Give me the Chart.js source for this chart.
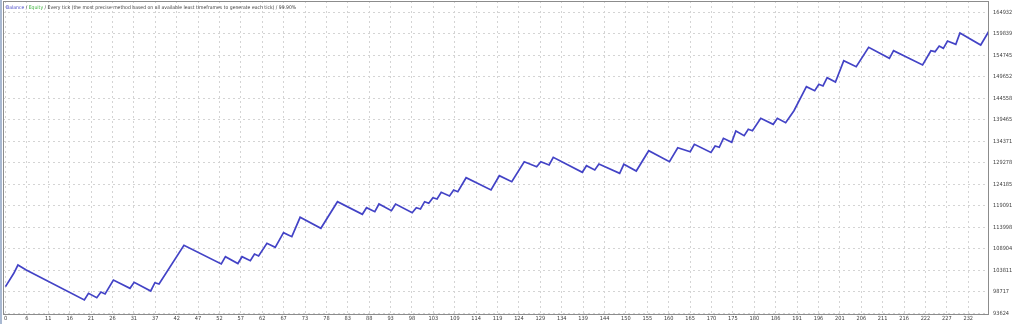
<!DOCTYPE html>
<html>
<head>
<meta charset="utf-8">
<script src="https://cdn.jsdelivr.net/npm/chart.js@4.4.1/dist/chart.umd.min.js"></script>
<style>
  html, body { margin: 0; padding: 0; background: #ffffff; }
  #wrap { width: 1024px; height: 324px; position: relative; }
  canvas { display: block; }
</style>
</head>
<body>
<div id="wrap"><canvas id="c" width="1024" height="324"></canvas></div>
<script>
// Trade numbers at the turning points of the balance curve
const trades = [0,2,3,5,19,20,22,23,24,26,30,31,35,36,37,43,52,53,56,57,59,60,61,63,65,67,69,71,76,80,
  86,87,89,90,93,94,98,99,100,101,102,103,104,105,107,108,109,111,117,119,122,125,128,129,131,132,
  139,140,142,143,148,149,152,155,160,162,165,166,170,171,172,173,175,176,178,179,180,182,185,186,
  188,190,193,195,196,197,198,200,202,205,208,213,214,221,223,224,225,226,227,229,230,235,237];
// Balance at those trades
const balance = [100000,103147,105114,103929,96822,98409,97367,98717,98244,101560,99594,101015,98954,
  100921,100613,109781,105351,107080,105469,107080,106132,107720,107246,110254,109307,112765,111818,
  116414,113808,120109,117124,118688,117740,119565,117977,119565,117504,118688,118380,120109,119730,
  121057,120749,122336,121460,122881,122478,125795,122881,126269,124847,129585,128401,129585,128804,
  130628,127074,128638,127619,129040,126837,128969,127382,132191,129585,132902,131954,133707,131765,
  133305,132997,135129,134181,136858,135745,137261,136929,139867,138445,139867,138825,141667,147353,
  146405,147921,147519,149485,148466,153512,152091,156687,154081,155881,152494,155881,155644,156995,
  156450,158179,157397,160074,157232,160548];
// Axis tick labels
const xTickLabels = [0,6,11,16,21,26,31,37,42,47,52,57,62,67,73,78,83,88,93,98,103,109,114,119,124,
  129,134,139,144,150,155,160,165,170,175,180,186,191,196,201,206,211,216,222,227,232];
const yTickLabels = [93624,98717,103811,108904,113998,119091,124185,129278,134371,139465,144558,
  149652,154745,159839,164932];
const headerParts = [
  {text: 'Balance', color: '#4a4ac8'},
  {text: ' / ', color: '#404040'},
  {text: 'Equity', color: '#3cb43c'},
  {text: ' / Every tick (the most precise method based on all available least timeframes to generate each tick) / 99.90%', color: '#404040'}
];

const FAMILY = '"Liberation Sans Narrow", "DejaVu Sans Condensed", "Liberation Sans", Arial, sans-serif';
const mctx = document.createElement('canvas').getContext('2d');
mctx.font = '10px ' + FAMILY;
const headerWidth = mctx.measureText(headerParts.map(p => p.text).join('')).width;
const headerSize = 10 * 291 / headerWidth;
const axisSize = 10 * 19.3 / mctx.measureText('164932').width;

const xStep = (xTickLabels[xTickLabels.length - 1] - xTickLabels[0]) / (xTickLabels.length - 1);
const yStep = (yTickLabels[yTickLabels.length - 1] - yTickLabels[0]) / (yTickLabels.length - 1);
const points = trades.map((t, i) => ({x: t, y: balance[i]}));

const framePlugin = {
  id: 'frame',
  beforeDraw(chart) {
    const ctx = chart.ctx;
    ctx.save();
    ctx.fillStyle = '#ffffff';
    ctx.fillRect(0, 0, chart.width, chart.height);
    ctx.fillStyle = '#a9b9d2';
    ctx.fillRect(0, 0, 2, chart.height);
    ctx.restore();
  },
  afterDraw(chart) {
    const {ctx, chartArea: a} = chart;
    ctx.save();
    ctx.strokeStyle = '#8c8c8c';
    ctx.lineWidth = 1;
    ctx.strokeRect(Math.round(a.left) + 0.5, Math.round(a.top) + 0.5,
      Math.round(a.right - a.left) - 1, Math.round(a.bottom - a.top));
    ctx.font = headerSize + 'px ' + FAMILY;
    ctx.textBaseline = 'middle';
    let x = 6;
    headerParts.forEach(p => {
      ctx.fillStyle = p.color;
      ctx.fillText(p.text, x, 8);
      x += ctx.measureText(p.text).width;
    });
    ctx.restore();
  }
};

function noPad(scale) {
  scale.paddingTop = 0; scale.paddingBottom = 0;
  scale.paddingLeft = 0; scale.paddingRight = 0;
}

new Chart(document.getElementById('c'), {
  type: 'line',
  data: {
    datasets: [{
      data: points,
      borderColor: '#4343c6',
      borderWidth: 1.7,
      pointRadius: 0,
      tension: 0,
      fill: false
    }]
  },
  options: {
    responsive: false,
    animation: false,
    devicePixelRatio: 1,
    layout: {padding: {left: 3, top: 1, right: 0, bottom: 0}},
    plugins: {legend: {display: false}, tooltip: {enabled: false}},
    scales: {
      x: {
        type: 'linear',
        min: -0.6,
        max: 237,
        afterBuildTicks(scale) {
          scale.ticks = xTickLabels.map((l, i) => ({value: xTickLabels[0] + i * xStep}));
        },
        afterFit(scale) { scale.height = 10.5; noPad(scale); },
        ticks: {
          autoSkip: false, maxRotation: 0, minRotation: 0,
          padding: 2,
          color: '#404040',
          font: {family: FAMILY, size: axisSize},
          callback: (v, i) => xTickLabels[i]
        },
        grid: {color: '#d4d4d4', lineWidth: 1, drawTicks: false},
        border: {display: false, dash: [2, 3]}
      },
      y: {
        type: 'linear',
        position: 'right',
        min: yTickLabels[0],
        max: 167655,
        afterBuildTicks(scale) {
          scale.ticks = yTickLabels.map((l, i) => ({value: yTickLabels[0] + i * yStep}));
        },
        afterFit(scale) { scale.width = 35; noPad(scale); },
        ticks: {
          padding: 4,
          color: '#404040',
          font: {family: FAMILY, size: axisSize},
          callback: (v, i) => yTickLabels[i]
        },
        grid: {color: '#d4d4d4', lineWidth: 1, drawTicks: false},
        border: {display: false, dash: [2, 3]}
      }
    }
  },
  plugins: [framePlugin]
});
</script>
</body>
</html>
